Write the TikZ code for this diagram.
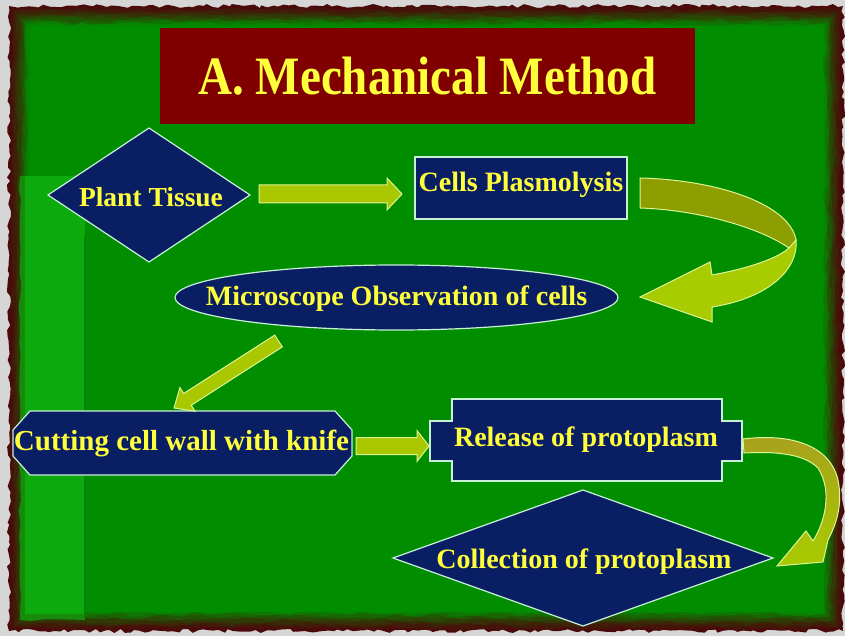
\documentclass[tikz,border=0pt]{standalone}
\usepackage{fontspec}
\setmainfont{Liberation Serif}
\usetikzlibrary{shapes.geometric,calc,decorations.pathmorphing}
\definecolor{bggray}{RGB}{214,214,214}
\definecolor{rim}{RGB}{75,10,10}
\definecolor{grn}{RGB}{0,142,0}
\definecolor{grnlight}{RGB}{12,170,12}
\definecolor{titlered}{RGB}{128,0,0}
\definecolor{navy}{RGB}{10,30,100}
\definecolor{txtyel}{RGB}{255,255,60}
\definecolor{edge}{RGB}{200,240,215}
\definecolor{arrowfill}{RGB}{170,200,0}
\definecolor{arrowedge}{RGB}{220,245,150}
\definecolor{olivearr}{RGB}{140,158,0}
\definecolor{limearr}{RGB}{168,204,0}
\definecolor{goldarr}{RGB}{168,160,30}
\tikzset{
  shapebox/.style={fill=navy, draw=edge, line width=1.2pt, inner sep=0pt, outer sep=0pt},
  ghost/.style={rectangle, inner sep=0pt, outer sep=0pt},
  lbl/.style={text=txtyel, inner sep=0pt, font=\bfseries\fontsize{28}{30}\selectfont},
  blockarrow/.style={fill=arrowfill, draw=arrowedge, line width=1pt, line join=miter},
  curvarrow/.style={draw=arrowedge, line width=1pt, line join=miter},
}
\newcommand\blockarr[5]{%
  \coordinate (bah) at ($(#2)!#5!(#1)$);
  \draw[blockarrow] ($(#1)!#3!90:(#2)$) -- ($(bah)!#3!90:(#2)$) -- ($(bah)!#4!90:(#2)$) -- (#2)
    -- ($(bah)!#4!-90:(#2)$) -- ($(bah)!#3!-90:(#2)$) -- ($(#1)!#3!-90:(#2)$) -- cycle;}
\begin{document}
\begin{tikzpicture}[x=1pt,y=-1pt]
\useasboundingbox (0,0) rectangle (845,636);
% background and torn frame
\fill[bggray] (0,0) rectangle (845,636);
\pgfmathsetseed{7}
\fill[rim, decorate, decoration={random steps, segment length=5pt, amplitude=2pt}] (9,6) rectangle (843,631);
\foreach \i/\c in {1/6,2/12,3/19,4/27,5/36,6/46,7/57,8/69,9/82,10/93}
  \fill[grn!\c!rim, decorate, decoration={random steps, segment length=12pt, amplitude=2.2pt}]
    ({10+1.7*\i},{7+1.7*\i}) rectangle ({842-1.7*\i},{630-1.7*\i});
\fill[grn] (30,26) rectangle (823,612);
\fill[grnlight!80!rim, decorate, decoration={random steps, segment length=12pt, amplitude=1.5pt}] (20,176) rectangle (85,620);
\fill[grnlight] (25,176) rectangle (85,614);
\draw[black!25!grnlight, line width=1.2pt] (85,236) -- (85,614);

% title
\node[ghost, fill=titlered, minimum width=535, minimum height=96, text=txtyel,
      font=\bfseries\fontsize{47}{50}\selectfont] (title) at (427.5,76) {\scalebox{1}[1.15]{A. Mechanical Method}};

% shapes
\node[shapebox, diamond, minimum width=202, minimum height=134] (pt) at (149,195) {};
\node[shapebox, rectangle, minimum width=212, minimum height=62] (cp) at (521,188) {};
\node[shapebox, ellipse, minimum width=443, minimum height=65] (mo) at (396.5,297.5) {};
\node[ghost, minimum width=339, minimum height=64] (cw) at (182.5,443) {};
\draw[shapebox] ($(cw.north west)+(17,0)$) -- ($(cw.north east)+(-17,0)$) -- ($(cw.east)+(0,-13)$)
  -- ($(cw.east)+(0,13)$) -- ($(cw.south east)+(-17,0)$) -- ($(cw.south west)+(17,0)$)
  -- ($(cw.west)+(0,13)$) -- ($(cw.west)+(0,-13)$) -- cycle;
\node[ghost, minimum width=312, minimum height=82] (rp) at (586,440) {};
\draw[shapebox] ($(rp.north west)+(22,0)$) -- ($(rp.north east)+(-20,0)$) -- ($(rp.north east)+(-20,22)$)
  -- ($(rp.north east)+(0,22)$) -- ($(rp.south east)+(0,-20)$) -- ($(rp.south east)+(-20,-20)$)
  -- ($(rp.south east)+(-20,0)$) -- ($(rp.south west)+(22,0)$) -- ($(rp.south west)+(22,-20)$)
  -- ($(rp.south west)+(0,-20)$) -- ($(rp.north west)+(0,22)$) -- ($(rp.north west)+(22,22)$) -- cycle;
\node[shapebox, diamond, minimum width=380, minimum height=136] (cl) at (583,558) {};

% labels
\node[lbl, font=\bfseries\fontsize{27.5}{30}\selectfont] (ptl) at ($(pt)+(2,2)$) {Plant Tissue};
\node[lbl] (cpl) at ($(cp)+(0,-3)$) {Cells Plasmolysis};
\node[lbl] (mol) at ($(mo)+(0,1)$) {Microscope Observation of cells};
\node[lbl, font=\bfseries\fontsize{29}{31}\selectfont] (cwl) at ($(cw)+(-1,0)$) {Cutting cell wall with knife};
\node[lbl] (rpl) at (rp) {Release of protoplasm};
\node[lbl] (cll) at ($(cl)+(1,4)$) {Collection of protoplasm};

% straight block arrows
\coordinate (a1s) at ($(pt.east)+(9,-1)$);
\coordinate (a1e) at ($(cp.west)+(-13,6)$);
\blockarr{a1s}{a1e}{9pt}{16pt}{15pt}
\coordinate (a2s) at ($(mo.south)+(-118,11)$);
\coordinate (a2e) at ($(cw.north west)+(161,-3)$);
\blockarr{a2s}{a2e}{7pt}{14pt}{16pt}
\coordinate (a3s) at ($(cw.east)+(4,3)$);
\coordinate (a3e) at ($(rp.west)+(-1,6)$);
\blockarr{a3s}{a3e}{8.5pt}{15.5pt}{12pt}

% curved arrow: Cells Plasmolysis -> Microscope Observation
\draw[curvarrow, fill=limearr] (796,240) .. controls (799,268) and (770,298) .. (712,307) -- (712,322)
  -- (640,297) -- (710,262) -- (712,275) .. controls (750,268) and (778,258) .. (789,248) -- cycle;
\draw[curvarrow, fill=olivearr] (640,178) .. controls (720,180) and (790,205) .. (796,240) -- (789,248)
  .. controls (760,228) and (700,210) .. (640,208) -- cycle;

% curved arrow: Release -> Collection
\draw[curvarrow, top color=goldarr, bottom color=limearr] (743,439) .. controls (790,433) and (830,445) .. (838,480)
  .. controls (843,505) and (836,525) .. (828,540) -- (823,562) -- (777,566) -- (806,531) -- (813,541)
  .. controls (826,520) and (832,490) .. (818,468) .. controls (805,455) and (780,451) .. (744,453) -- cycle;
\end{tikzpicture}
\end{document}
